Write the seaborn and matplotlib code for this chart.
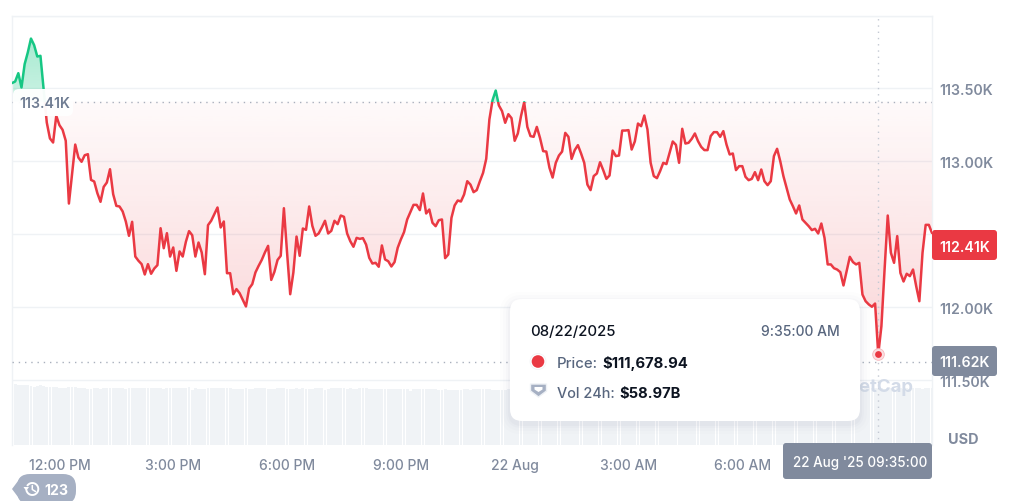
import numpy as np
import pandas as pd
import matplotlib
matplotlib.use("Agg")
import matplotlib.pyplot as plt
import matplotlib.dates as mdates
from matplotlib.patches import FancyBboxPatch, Rectangle, Polygon, Circle, Arc
import seaborn as sns

# BTC price in thousands USD, one reading every 5 minutes from 10:45 on 21 Aug
price = [
    113.537, 113.548, 113.605, 113.507, 113.667, 113.747, 113.842, 113.797, 113.719, 113.724,
    113.495, 113.267, 113.158, 113.130, 113.313, 113.249, 113.217, 113.142, 112.712, 112.913,
    113.116, 113.027, 112.998, 113.043, 113.050, 112.874, 112.863, 112.783, 112.724, 112.826,
    112.856, 112.947, 112.776, 112.696, 112.692, 112.658, 112.589, 112.491, 112.587, 112.349,
    112.320, 112.297, 112.226, 112.297, 112.231, 112.267, 112.290, 112.543, 112.406, 112.509,
    112.349, 112.411, 112.251, 112.384, 112.349, 112.450, 112.523, 112.495, 112.349, 112.445,
    112.377, 112.228, 112.564, 112.594, 112.639, 112.685, 112.548, 112.589, 112.235, 112.235,
    112.091, 112.126, 112.098, 112.053, 112.007, 112.130, 112.160, 112.240, 112.285, 112.326,
    112.377, 112.422, 112.189, 112.244, 112.326, 112.354, 112.680, 112.377, 112.091, 112.240,
    112.486, 112.354, 112.541, 112.532, 112.692, 112.559, 112.491, 112.507, 112.548, 112.594,
    112.507, 112.525, 112.594, 112.571, 112.630, 112.621, 112.507, 112.454, 112.416, 112.477,
    112.470, 112.475, 112.431, 112.340, 112.301, 112.306, 112.279, 112.425, 112.329, 112.317,
    112.281, 112.311, 112.409, 112.466, 112.516, 112.603, 112.653, 112.703, 112.703, 112.667,
    112.781, 112.644, 112.671, 112.580, 112.557, 112.598, 112.603, 112.338, 112.363, 112.614,
    112.699, 112.733, 112.726, 112.774, 112.865, 112.842, 112.790, 112.804, 112.865, 112.922,
    113.018, 113.288, 113.420, 113.486, 113.384, 113.345, 113.265, 113.324, 113.297, 113.142,
    113.192, 113.311, 113.406, 113.237, 113.174, 113.169, 113.237, 113.162, 113.071, 113.068,
    112.957, 112.890, 112.991, 113.041, 113.068, 113.196, 113.169, 113.018, 113.078, 113.112,
    113.055, 112.991, 112.842, 112.804, 112.900, 112.918, 112.995, 112.941, 112.881, 112.904,
    113.075, 113.037, 113.041, 113.212, 113.212, 113.215, 113.082, 113.137, 113.260, 113.242,
    113.315, 113.219, 112.991, 112.900, 112.886, 112.934, 112.991, 112.982, 113.059, 113.137,
    113.114, 112.991, 113.224, 113.123, 113.128, 113.155, 113.192, 113.139, 113.100, 113.078,
    113.078, 113.174, 113.201, 113.201, 113.169, 113.208, 113.116, 113.048, 113.055, 112.941,
    112.968, 112.968, 112.895, 112.872, 112.881, 112.927, 112.872, 112.945, 112.865, 112.838,
    112.865, 113.037, 113.087, 113.002, 112.900, 112.820, 112.740, 112.694, 112.644, 112.699,
    112.603, 112.580, 112.557, 112.530, 112.539, 112.507, 112.575, 112.477, 112.295, 112.295,
    112.269, 112.260, 112.242, 112.151, 112.249, 112.347, 112.311, 112.295, 112.306, 112.089,
    112.043, 112.021, 112.005, 112.027, 111.679, 111.872, 112.260, 112.630, 112.374, 112.306,
    112.489, 112.237, 112.178, 112.231, 112.215, 112.260, 112.146, 112.043, 112.374, 112.566,
    112.566, 112.510,
]

# 24h volume in billions USD, same 5 minute step
volume = [
    61.4, 63.5, 62.8, 62.4, 62.4, 62.4, 61.4, 61.0, 61.4, 62.4, 61.4, 61.0, 61.0, 61.0, 61.0, 60.0,
    60.0, 60.0, 61.0, 61.0, 60.3, 60.0, 60.0, 59.0, 58.2, 58.2, 60.0, 59.0, 58.2, 60.0, 60.0, 60.0,
    60.0, 60.0, 60.0, 59.0, 58.2, 59.0, 60.0, 60.0, 59.0, 59.0, 60.0, 59.0, 59.0, 59.0, 59.0, 60.0,
    58.2, 59.0, 59.0, 59.0, 59.0, 60.0, 60.0, 59.0, 60.5, 57.0, 59.5, 58.5, 58.5, 58.5, 59.5, 59.0,
    59.5, 59.5, 59.5, 59.5, 59.5, 59.5, 58.5, 58.5, 58.5, 58.5, 59.5, 58.5, 58.5, 59.5, 59.5, 59.5,
    59.5, 58.5, 58.5, 58.5, 59.5, 59.5, 59.5, 58.0, 58.5, 58.5, 59.5, 58.5, 59.0, 58.5, 58.5, 58.5,
    59.5, 59.5, 59.5, 57.0, 58.0, 59.0, 59.0, 59.5, 59.5, 59.5, 58.5, 59.5, 58.5, 58.5, 59.5, 59.5,
    59.0, 58.5, 58.5, 58.5, 58.5, 58.5, 58.5, 58.5, 58.5, 58.5, 58.5, 58.5, 58.5, 58.5, 56.5, 58.0,
    58.5, 58.5, 58.5, 58.5, 58.5, 58.5, 58.5, 57.0, 57.0, 58.0, 57.5, 57.5, 57.0, 57.0, 57.0, 58.5,
    58.0, 57.0, 58.5, 58.5, 58.5, 58.5, 58.5, 58.0, 57.0, 57.0, 57.0, 57.0, 57.5, 58.0, 57.5, 58.5,
    57.5, 58.5, 58.0, 58.5, 58.5, 59.0, 58.5, 58.5, 58.0, 58.5, 59.0, 58.5, 58.5, 58.0, 58.0, 58.5,
    59.0, 59.0, 58.5, 58.0, 58.5, 58.5, 59.0, 58.5, 58.0, 58.0, 58.5, 59.0, 58.5, 58.5, 59.0, 59.0,
    58.5, 58.0, 58.5, 58.5, 58.0, 58.5, 59.0, 59.0, 58.5, 58.5, 58.0, 58.5, 59.0, 58.5, 58.5, 58.0,
    58.5, 59.0, 59.0, 58.5, 58.0, 58.5, 58.5, 59.0, 58.5, 58.5, 58.0, 58.0, 58.5, 59.0, 58.5, 58.5,
    59.0, 58.5, 58.0, 58.5, 58.5, 59.0, 58.5, 58.0, 58.5, 59.0, 59.0, 58.5, 58.5, 58.0, 58.5, 58.5,
    59.0, 58.5, 58.0, 58.5, 59.0, 58.5, 58.5, 58.0, 58.5, 59.0, 58.5, 58.0, 58.5, 58.5, 59.0, 58.5,
    58.0, 58.5, 59.0, 59.5, 58.5, 58.0, 58.5, 59.0, 58.5, 58.5, 59.0, 58.5, 58.0, 58.5, 59.0, 59.5,
    59.5, 59.0, 58.5, 59.0, 58.5, 59.5, 59.0, 58.5, 59.5, 59.0, 58.5, 59.0, 58.5, 59.0, 59.5, 59.0,
    58.5, 59.0, 59.5, 59.0,
]

y_ticks = [111.5, 112.0, 112.5, 113.0, 113.5, 114.0]
y_tick_labels = ["111.50K", "112.00K", "112.50K", "113.00K", "113.50K", ""]
x_tick_times = ["2025-08-21 12:00", "2025-08-21 15:00", "2025-08-21 18:00", "2025-08-21 21:00",
                "2025-08-22 00:00", "2025-08-22 03:00", "2025-08-22 06:00"]
x_tick_labels = ["12:00 PM", "3:00 PM", "6:00 PM", "9:00 PM", "22 Aug", "3:00 AM", "6:00 AM"]

base_price = 113.41
cursor_price = 111.63
cursor_dot = 111.679
cursor_time = "2025-08-22 09:35"

RED = "#ea3943"
GREEN = "#16c784"
GREY = "#808a9d"
GRID = "#eff2f5"
DARK = "#0d1421"

sns.set_theme(style="white")
plt.rcParams["font.family"] = ["Inter", "DejaVu Sans"]

times = pd.date_range("2025-08-21 10:45", periods=len(price), freq="5min")
df = pd.DataFrame({"time": times, "price": price})
xnum = mdates.date2num(times)
xmin = mdates.date2num(pd.Timestamp("2025-08-21 10:45"))
xmax = mdates.date2num(pd.Timestamp("2025-08-22 11:00"))
step = 5 / 1440
ymin, ymax = 111.0616, 114.0

fig = plt.figure(figsize=(10.16, 5.02), dpi=100, facecolor="white")
ax = fig.add_axes([12 / 1016, 56.5 / 502, 920 / 1016, 429 / 502])

# volume bars on their own hidden scale
vol_ax = ax.twinx()
vol_times = mdates.date2num(pd.date_range("2025-08-21 10:45", periods=len(volume), freq="5min"))
vol_ax.bar(vol_times, volume, width=step * 0.9, color="#f0f3f6", linewidth=0)
vol_ax.set_ylim(0, 451.8)
vol_ax.axis("off")
ax.set_zorder(vol_ax.get_zorder() + 1)
ax.patch.set_visible(False)

# gradient fills under and over the baseline
red_poly = ax.fill_between(xnum, np.minimum(price, base_price), base_price, alpha=0)
red_grad = np.zeros((256, 1, 4))
red_grad[:, 0, :3] = matplotlib.colors.to_rgb(RED)
red_grad[:, 0, 3] = np.linspace(0.025, 0.21, 256)
im = ax.imshow(red_grad, extent=[xmin, xmax, 111.679, base_price], aspect="auto", zorder=1.5)
im.set_clip_path(red_poly.get_paths()[0], ax.transData)

green_poly = ax.fill_between(xnum, np.maximum(price, base_price), base_price, alpha=0)
green_grad = np.zeros((256, 1, 4))
green_grad[:, 0, :3] = matplotlib.colors.to_rgb(GREEN)
green_grad[:, 0, 3] = np.linspace(0.38, 0.22, 256)
im2 = ax.imshow(green_grad, extent=[xmin, xmax, base_price, 113.85], aspect="auto", zorder=1.5)
im2.set_clip_path(green_poly.get_paths()[0], ax.transData)

# same line twice, clipped at the baseline
sns.lineplot(data=df, x="time", y="price", color=RED, linewidth=1.8, ax=ax, zorder=3)
ax.lines[-1].set_clip_path(Rectangle((xmin, ymin), xmax - xmin, base_price - ymin, transform=ax.transData))
sns.lineplot(data=df, x="time", y="price", color=GREEN, linewidth=1.8, ax=ax, zorder=3)
ax.lines[-1].set_clip_path(Rectangle((xmin, base_price), xmax - xmin, ymax - base_price, transform=ax.transData))

cursor_x = mdates.date2num(pd.Timestamp(cursor_time))
ax.axhline(base_price, color="#a9b0bd", lw=1, ls=(0, (1, 3.5)), zorder=2.6)
ax.axhline(cursor_price, color="#a9b0bd", lw=1, ls=(0, (1, 3.5)), zorder=2.6)
ax.axvline(cursor_x, color="#c3c9d3", lw=1, ls=(0, (1, 3.5)), zorder=2.6)
ax.scatter([cursor_x], [cursor_dot], s=70, color="#fbdfe1", edgecolor="#f6b9be", linewidth=0.6, zorder=4)
ax.scatter([cursor_x], [cursor_dot], s=24, color=RED, linewidth=0, zorder=5)

ax.set_xlim(xmin, xmax)
ax.set_ylim(ymin, ymax)
ax.set_xlabel("")
ax.set_ylabel("")
ax.xaxis.set_major_locator(matplotlib.ticker.FixedLocator(mdates.date2num(pd.to_datetime(x_tick_times))))
ax.xaxis.set_major_formatter(matplotlib.ticker.FixedFormatter(x_tick_labels))
ax.yaxis.tick_right()
ax.set_yticks(y_ticks)
ax.set_yticklabels(y_tick_labels)
ax.tick_params(axis="x", length=0, pad=10, labelsize=10, labelcolor=GREY)
ax.tick_params(axis="y", length=0, pad=5, labelsize=10.2, labelcolor=GREY)
for lab in ax.get_xticklabels():
    lab.set_fontweight(500)
for lab in ax.get_yticklabels():
    lab.set_fontweight(600)
ax.grid(axis="y", color=GRID, lw=1)
ax.set_axisbelow(True)
for side in ["top", "left", "right"]:
    ax.spines[side].set_color(GRID)
    ax.spines[side].set_linewidth(1)
ax.spines["bottom"].set_visible(False)

# overlay in pixel coordinates for the badges and the tooltip
ov = fig.add_axes([0, 0, 1, 1])
ov.set_zorder(5)
ov.set_xlim(0, 1016)
ov.set_ylim(502, 0)
ov.axis("off")
ov.patch.set_alpha(0)


def badge(x0, y0, x1, y1, color, alpha=1.0, r=3, zorder=2):
    ov.add_patch(FancyBboxPatch((x0 + r, y0 + r), x1 - x0 - 2 * r, y1 - y0 - 2 * r,
                                boxstyle=f"round,pad={r},rounding_size={r}",
                                fc=color, ec="none", alpha=alpha, zorder=zorder))


ov.text(913, 387, "CoinMarketCap", ha="right", va="center", color="#d3dbe8", fontsize=13.4,
        fontweight="bold", zorder=1)
ov.text(963, 440, "USD", ha="center", va="center", color=GREY, fontsize=10.4, fontweight="bold")

badge(13, 90, 73, 117, "white", alpha=0.96, r=6)
ov.text(45, 104.5, "113.41K", ha="center", va="center", color="#6f7c92", fontsize=10.2, fontweight=600)

badge(932, 231, 997, 261, RED)
ov.text(964.5, 248, "112.41K", ha="center", va="center", color="white", fontsize=10.2, fontweight=600)
badge(932, 347, 997, 377, GREY)
ov.text(964.5, 363.5, "111.62K", ha="center", va="center", color="white", fontsize=10.2, fontweight=600)
badge(783, 444, 932, 480, GREY)
ov.text(860, 463.5, "22 Aug '25 09:35:00", ha="center", va="center", color="white", fontsize=9.7, fontweight=500)

# tooltip card with a soft shadow
for grow, a in [(10, 0.012), (7, 0.016), (4, 0.022), (2, 0.03)]:
    badge(510 - grow, 300 - grow + 3, 860 + grow, 422 + grow + 3, "#58667e", alpha=a, r=12 + grow)
badge(510, 300, 860, 422, "white", r=12)
ov.text(530, 332, "08/22/2025", ha="left", va="center", color=DARK, fontsize=10.7, fontweight=500)
ov.text(840, 332, "9:35:00 AM", ha="right", va="center", color="#58667e", fontsize=10, fontweight=500)
ov.add_patch(Circle((538, 362.5), 8, fc="white", ec="#eff2f5", lw=0.5, zorder=3))
ov.add_patch(Circle((538, 362.5), 6.3, fc=RED, ec="none", zorder=3))
ov.text(557, 364, "Price:", ha="left", va="center", color="#58667e", fontsize=10.7, fontweight=500)
ov.text(602, 364, "$111,678.94", ha="left", va="center", color=DARK, fontsize=10.7, fontweight="bold")
ov.add_patch(Polygon([(530.5, 385), (546.5, 385), (546.5, 392), (538.5, 398), (530.5, 392)],
                     fc="#a6b0c3", ec="#eef1f5", lw=1, zorder=3))
ov.add_patch(Polygon([(534.5, 388), (542.5, 388), (542.5, 390.5), (538.5, 393), (534.5, 390.5)],
                     fc="white", ec="none", zorder=3))
ov.text(557, 394, "Vol 24h:", ha="left", va="center", color="#58667e", fontsize=10.4, fontweight=500)
ov.text(619, 394, "$58.97B", ha="left", va="center", color=DARK, fontsize=10.6, fontweight="bold")

# history pill bottom left
badge(17, 475, 76, 505, "#a6b0c3", r=13)
ov.add_patch(Polygon([(12, 490), (21, 478), (21, 502)], fc="#a6b0c3", ec="none", zorder=2))
ov.add_patch(Arc((32.3, 490), 12, 12, theta1=-150, theta2=170, color="white", lw=1.4, zorder=3))
ov.add_patch(Polygon([(23.5, 488), (29, 488), (26.2, 492)], fc="white", ec="none", zorder=3))
ov.plot([32.3, 32.3, 35.5], [486.5, 490.5, 492.5], color="white", lw=1.1, solid_capstyle="round", zorder=3)
ov.text(44, 491, "123", ha="left", va="center", color="white", fontsize=10.2, fontweight="bold")

fig.savefig("out.png", dpi=100, facecolor="white")
